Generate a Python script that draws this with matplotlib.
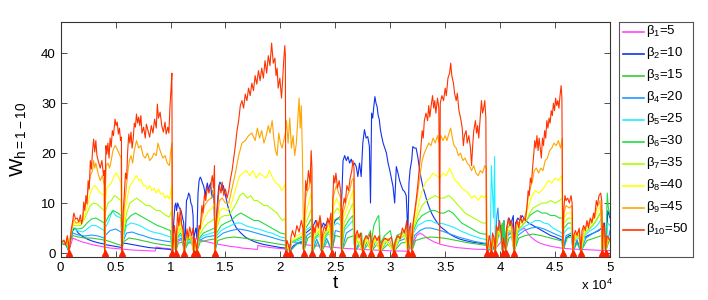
import numpy as np
import matplotlib
matplotlib.use("Agg")
import matplotlib.pyplot as plt

plt.rcParams['font.family'] = ['Liberation Sans', 'DejaVu Sans']
plt.rcParams['mathtext.fontset'] = 'custom'
plt.rcParams['mathtext.rm'] = 'Liberation Sans'
plt.rcParams['mathtext.it'] = 'Liberation Sans'

# times are in thousands of t
resets = [0.75, 4.0, 5.57, 10.17, 10.48, 11.25, 12.1, 12.4, 14.05, 20.5, 20.85, 22.12,
          22.9, 23.75, 24.68, 25.57, 26.77, 27.48, 28.27, 29.09, 30.32, 31.6, 31.96,
          38.8, 39.2, 39.55, 40.22, 40.5, 41.27, 45.7, 46.62, 47.35, 49.3, 49.6]

betas = [5, 10, 15, 20, 25, 30, 35, 40, 45, 50]

b10 = [(0, 2.0), (0.3, 2.6), (0.45, 1.6), (0.6, 3.5), (0.7, 2.2), (0.75, 0.2),
       (0.85, 1.5), (0.95, 4.5), (1.1, 6.5), (1.2, 8.0), (1.35, 6.8), (1.5, 7.0), (1.65, 6.2),
       (1.8, 7.6), (1.9, 5.8), (2.0, 6.8), (2.1, 10.2), (2.2, 8.5), (2.3, 11.5), (2.4, 9.8),
       (2.5, 14.5), (2.6, 12.8), (2.7, 18.5), (2.8, 16.8), (2.9, 20.5), (3.0, 22.8), (3.1, 20.2),
       (3.2, 22.5), (3.3, 19.5), (3.45, 18.2), (3.6, 17.0), (3.75, 18.5), (3.9, 15.5), (3.97, 16.5),
       (4.0, 0.3), (4.05, 13.5), (4.12, 21.5), (4.2, 19.8), (4.3, 22.0), (4.4, 19.0), (4.5, 23.0),
       (4.6, 21.2), (4.7, 24.5), (4.8, 23.5), (4.95, 26.8), (5.05, 25.5), (5.15, 26.2), (5.25, 23.8),
       (5.35, 25.0), (5.45, 22.5), (5.53, 23.2), (5.57, 0.5),
       (5.62, 3.0), (5.7, 8.5), (5.8, 12.0), (5.9, 16.0), (6.0, 14.8), (6.1, 20.5), (6.2, 23.8),
       (6.3, 22.0), (6.4, 24.2), (6.5, 21.0), (6.6, 22.8), (6.7, 26.0), (6.8, 25.2), (6.9, 27.8),
       (7.0, 26.0), (7.1, 27.2), (7.2, 25.5), (7.3, 27.5), (7.4, 24.0), (7.55, 25.2), (7.7, 23.0),
       (7.8, 25.8), (7.95, 24.5), (8.1, 23.2), (8.25, 25.5), (8.4, 24.0), (8.55, 26.8), (8.7, 25.0),
       (8.8, 29.8), (8.9, 27.0), (9.05, 28.2), (9.2, 25.5), (9.35, 24.2), (9.5, 26.2), (9.6, 23.8),
       (9.75, 25.2), (9.85, 24.0), (9.95, 29.5), (10.05, 33.0), (10.12, 36.0), (10.17, 0.3),
       (10.25, 2.0), (10.35, 5.5), (10.45, 3.5), (10.48, 0.3), (10.55, 4.0), (10.65, 8.2),
       (10.75, 5.5), (10.9, 9.0), (11.0, 6.0), (11.15, 4.5), (11.25, 0.3), (11.35, 2.5), (11.5, 4.8),
       (11.6, 3.0), (11.75, 5.2), (11.9, 3.5), (12.05, 5.0), (12.1, 0.3), (12.2, 3.0), (12.3, 2.0),
       (12.4, 0.3), (12.5, 3.5), (12.6, 5.5), (12.7, 4.8), (12.85, 9.5), (12.95, 8.0), (13.1, 12.0),
       (13.2, 10.5), (13.35, 13.2), (13.5, 12.0), (13.65, 13.5), (13.8, 15.5), (13.9, 13.0),
       (14.0, 17.5), (14.05, 0.3),
       (14.15, 6.0), (14.3, 10.0), (14.45, 13.5), (14.6, 12.0), (14.7, 14.2), (14.85, 11.5),
       (15.0, 12.8), (15.15, 11.0), (15.3, 12.5), (15.45, 14.8), (15.6, 16.5), (15.75, 19.0),
       (15.9, 21.5), (16.05, 24.5), (16.2, 26.5), (16.35, 29.5), (16.5, 30.5), (16.65, 29.0),
       (16.8, 31.8), (16.95, 30.5), (17.1, 33.0), (17.25, 31.5), (17.4, 34.0), (17.55, 32.5),
       (17.7, 35.5), (17.85, 33.8), (18.0, 36.5), (18.15, 34.5), (18.3, 37.0), (18.45, 35.0),
       (18.6, 38.5), (18.75, 36.0), (18.9, 39.5), (19.05, 37.5), (19.2, 42.0), (19.35, 38.0),
       (19.5, 39.0), (19.6, 35.5), (19.7, 37.0), (19.8, 33.0), (19.95, 35.0), (20.1, 31.0),
       (20.2, 34.5), (20.3, 38.5), (20.4, 41.5), (20.45, 39.5), (20.5, 0.3),
       (20.6, 2.5), (20.75, 1.5), (20.85, 0.3), (20.95, 3.0), (21.1, 4.5), (21.3, 3.2), (21.5, 5.5),
       (21.7, 4.2), (21.9, 6.5), (22.05, 5.0), (22.12, 0.3), (22.2, 8.0), (22.3, 14.5), (22.4, 12.5),
       (22.55, 16.5), (22.7, 14.0), (22.8, 20.5), (22.87, 17.0), (22.9, 0.3), (23.0, 5.5),
       (23.15, 4.0), (23.3, 6.5), (23.45, 5.0), (23.6, 7.5), (23.7, 6.0), (23.75, 0.3), (23.85, 4.0),
       (24.0, 5.5), (24.15, 4.5), (24.3, 7.0), (24.45, 6.0), (24.6, 8.0), (24.68, 0.3), (24.75, 9.5),
       (24.85, 15.5), (24.95, 14.0), (25.05, 16.0), (25.2, 13.0), (25.35, 14.5), (25.5, 12.0),
       (25.57, 0.3), (25.65, 8.5), (25.8, 11.0), (25.9, 10.0), (26.05, 13.5), (26.2, 12.5),
       (26.35, 15.0), (26.5, 16.5), (26.6, 18.5), (26.7, 17.0), (26.77, 0.3), (26.85, 3.5),
       (27.0, 4.5), (27.15, 3.0), (27.3, 4.0), (27.48, 0.3), (27.6, 2.5), (27.8, 3.5), (28.0, 2.8),
       (28.2, 4.0), (28.27, 0.3), (28.4, 2.5), (28.6, 3.5), (28.8, 2.5), (29.0, 3.5), (29.09, 0.3),
       (29.2, 2.0), (29.5, 3.0), (29.8, 2.5), (30.1, 3.2), (30.32, 0.3), (30.45, 2.5), (30.7, 3.5),
       (30.9, 2.8), (31.1, 5.0), (31.3, 4.0), (31.5, 6.5), (31.6, 0.3), (31.7, 4.5), (31.85, 6.0),
       (31.96, 0.3),
       (32.05, 5.5), (32.2, 8.0), (32.35, 10.5), (32.5, 13.5), (32.6, 16.0), (32.7, 18.5),
       (32.8, 21.5), (32.9, 24.5), (33.0, 23.0), (33.1, 26.5), (33.25, 28.0), (33.4, 26.5),
       (33.5, 29.5), (33.6, 27.2), (33.75, 30.0), (33.85, 31.5), (33.95, 29.0), (34.05, 30.5),
       (34.15, 28.0), (34.3, 31.0), (34.42, 29.0), (34.5, 2.0), (34.55, 30.0), (34.7, 31.5),
       (34.85, 30.5), (35.0, 33.0), (35.1, 31.5), (35.25, 35.0), (35.4, 36.0), (35.5, 38.0),
       (35.6, 35.5), (35.75, 34.0), (35.85, 32.0), (36.0, 30.5), (36.1, 32.0), (36.25, 28.5),
       (36.4, 27.0), (36.55, 25.0), (36.65, 21.5), (36.75, 23.5), (36.9, 24.5), (37.0, 22.0),
       (37.15, 23.5), (37.3, 21.0), (37.4, 17.5), (37.5, 21.5), (37.6, 24.5), (37.75, 26.5),
       (37.85, 24.0), (37.95, 25.5), (38.05, 23.0), (38.15, 26.0), (38.3, 30.5), (38.4, 28.0),
       (38.5, 29.0), (38.6, 30.5), (38.7, 27.0), (38.75, 2.0), (38.8, 0.3),
       (38.9, 1.5), (39.0, 3.5), (39.1, 2.5), (39.2, 0.3), (39.3, 4.0), (39.45, 3.0), (39.55, 0.3),
       (39.65, 5.5), (39.8, 4.5), (39.95, 6.5), (40.1, 4.0), (40.22, 0.3), (40.3, 3.0), (40.5, 0.3),
       (40.6, 5.0), (40.75, 7.0), (40.9, 5.5), (41.05, 6.5), (41.2, 4.5), (41.27, 0.3),
       (41.4, 5.5), (41.55, 6.5), (41.7, 5.0), (41.85, 7.5), (42.0, 6.0), (42.15, 7.0), (42.3, 6.5),
       (42.45, 9.5), (42.55, 12.5), (42.65, 11.5), (42.75, 15.0), (42.85, 14.0), (42.95, 17.0),
       (43.05, 19.5), (43.15, 22.5), (43.25, 21.0), (43.35, 23.5), (43.45, 20.5), (43.55, 23.0),
       (43.65, 21.0), (43.75, 19.0), (43.85, 23.0), (43.95, 21.5), (44.05, 24.5), (44.15, 23.0),
       (44.25, 26.5), (44.35, 25.0), (44.45, 27.0), (44.55, 26.0), (44.65, 28.5), (44.75, 27.5),
       (44.85, 30.0), (44.95, 28.5), (45.05, 31.0), (45.15, 29.5), (45.25, 30.5), (45.35, 29.0),
       (45.45, 31.5), (45.55, 33.5), (45.62, 31.0), (45.7, 0.3),
       (45.8, 9.0), (45.9, 11.5), (46.0, 10.5), (46.15, 11.0), (46.3, 10.0), (46.45, 11.5),
       (46.55, 10.0), (46.62, 0.3), (46.7, 3.5), (46.85, 4.5), (47.0, 3.5), (47.2, 5.0), (47.35, 0.3),
       (47.45, 4.5), (47.6, 5.5), (47.75, 4.5), (47.9, 6.5), (48.05, 5.0), (48.2, 7.0), (48.35, 6.0),
       (48.5, 8.0), (48.6, 7.0), (48.75, 10.5), (48.85, 9.5), (49.0, 11.5), (49.15, 12.0),
       (49.25, 10.5), (49.3, 0.3), (49.4, 6.0), (49.5, 5.0), (49.6, 0.3), (49.7, 3.5), (49.85, 3.0),
       (50.0, 2.5)]

b9 = [(0, 2.0), (0.3, 2.4), (0.5, 1.6), (0.6, 3.0), (0.75, 0.3), (0.9, 3.5), (1.1, 5.8),
      (1.2, 6.8), (1.4, 6.0), (1.6, 6.2), (1.8, 6.5), (2.0, 6.5), (2.1, 8.5), (2.3, 10.0),
      (2.5, 12.5), (2.7, 15.5), (2.9, 16.5), (3.0, 18.5), (3.1, 17.0), (3.2, 18.0), (3.4, 16.0),
      (3.6, 14.5), (3.8, 15.5), (3.97, 13.5), (4.0, 0.3), (4.05, 12.0), (4.15, 17.5), (4.3, 18.0),
      (4.45, 17.0), (4.6, 18.5), (4.75, 20.5), (4.95, 21.5), (5.1, 21.0), (5.3, 20.0), (5.5, 19.0),
      (5.57, 0.4), (5.65, 4.0), (5.8, 9.5), (5.95, 12.5), (6.1, 16.0), (6.25, 18.5), (6.4, 19.5),
      (6.55, 18.0), (6.7, 20.5), (6.9, 22.5), (7.1, 21.0), (7.3, 21.5), (7.5, 19.5), (7.7, 19.0),
      (7.9, 20.0), (8.1, 18.5), (8.3, 19.0), (8.5, 20.0), (8.7, 19.5), (8.85, 22.0), (9.05, 20.5),
      (9.3, 19.0), (9.5, 19.5), (9.7, 18.0), (9.9, 17.5), (10.0, 20.0), (10.12, 22.0), (10.17, 0.3),
      (10.3, 3.5), (10.48, 0.3), (10.6, 4.5), (10.9, 7.0), (11.1, 4.5), (11.25, 0.3), (11.5, 4.0),
      (11.9, 3.2), (12.1, 0.3), (12.2, 2.5), (12.4, 0.3), (12.6, 4.5), (12.9, 7.5), (13.1, 9.5),
      (13.4, 10.5), (13.7, 11.0), (13.95, 13.0), (14.05, 0.3), (14.2, 6.0), (14.45, 10.5),
      (14.7, 11.0), (15.0, 10.0), (15.3, 10.0), (15.6, 13.0), (15.9, 16.0), (16.2, 19.5),
      (16.5, 22.0), (16.8, 22.5), (17.1, 23.5), (17.4, 24.0), (17.7, 22.5), (17.9, 25.0),
      (18.1, 23.0), (18.3, 24.5), (18.5, 22.0), (18.7, 23.5), (18.9, 25.5), (19.05, 24.0),
      (19.25, 26.5), (19.4, 23.0), (19.55, 20.5), (19.7, 19.5), (19.85, 24.0), (20.0, 22.0),
      (20.15, 21.0), (20.3, 22.5), (20.45, 24.0), (20.55, 26.5), (20.7, 22.0), (20.85, 27.0),
      (21.0, 21.0), (21.15, 23.5), (21.3, 19.5), (21.45, 22.0), (21.6, 27.5), (21.7, 31.0),
      (21.8, 25.0), (21.9, 29.5), (22.0, 20.0), (22.12, 0.3),
      (22.2, 6.0), (22.3, 11.0), (22.45, 12.5), (22.6, 13.0), (22.8, 16.5), (22.9, 0.3),
      (23.0, 4.5), (23.3, 5.5), (23.6, 6.5), (23.75, 0.3), (23.9, 3.5), (24.2, 5.0), (24.5, 6.5),
      (24.68, 0.3), (24.8, 11.0), (24.95, 12.5), (25.1, 13.5), (25.3, 12.0), (25.5, 11.0),
      (25.57, 0.3), (25.7, 8.0), (25.9, 9.5), (26.1, 11.5), (26.3, 12.5), (26.5, 14.5),
      (26.65, 15.0), (26.77, 0.3), (26.9, 3.5), (27.2, 3.8), (27.48, 0.3), (27.7, 3.0), (28.0, 2.8),
      (28.27, 0.3), (28.5, 3.0), (28.9, 3.0), (29.09, 0.3), (29.4, 2.8), (29.9, 2.8), (30.32, 0.3),
      (30.6, 3.0), (31.0, 3.5), (31.3, 4.5), (31.5, 5.5), (31.6, 0.3), (31.75, 5.0), (31.96, 0.3),
      (32.1, 6.0), (32.3, 9.0), (32.5, 12.0), (32.7, 15.5), (32.9, 18.5), (33.1, 20.0),
      (33.3, 21.0), (33.5, 22.0), (33.7, 21.5), (33.9, 23.0), (34.1, 22.0), (34.3, 23.5),
      (34.45, 22.0), (34.6, 23.5), (34.8, 22.5), (35.0, 23.5), (35.15, 22.5), (35.35, 24.0),
      (35.5, 25.0), (35.65, 23.0), (35.8, 21.5), (36.0, 21.0), (36.2, 19.5), (36.4, 20.0),
      (36.6, 18.5), (36.8, 19.0), (37.0, 18.0), (37.2, 17.5), (37.4, 16.5), (37.6, 17.5),
      (37.8, 16.0), (38.0, 15.5), (38.2, 16.5), (38.4, 16.0), (38.6, 17.5), (38.75, 17.0), (38.8, 0.3),
      (38.9, 2.0), (39.2, 0.3), (39.4, 3.5), (39.55, 0.3), (39.8, 5.0), (40.1, 4.0), (40.22, 0.3),
      (40.5, 0.3), (40.7, 6.0), (41.0, 5.5), (41.27, 0.3), (41.5, 5.5), (41.8, 6.5), (42.1, 6.5),
      (42.35, 8.0), (42.55, 11.0), (42.75, 13.0), (42.95, 14.5), (43.1, 16.5), (43.3, 17.0),
      (43.5, 16.0), (43.7, 17.0), (43.9, 16.5), (44.1, 18.5), (44.3, 19.0), (44.5, 20.5),
      (44.7, 21.0), (44.9, 22.0), (45.1, 21.5), (45.3, 22.5), (45.5, 21.0), (45.65, 23.0),
      (45.7, 0.3), (45.8, 8.0), (46.0, 9.5), (46.3, 9.0), (46.55, 9.5), (46.62, 0.3), (46.8, 3.5),
      (47.2, 4.5), (47.35, 0.3), (47.6, 5.0), (47.9, 5.5), (48.2, 6.5), (48.5, 7.0), (48.8, 9.0),
      (49.1, 10.5), (49.3, 0.3), (49.45, 5.0), (49.6, 0.3), (49.8, 3.0), (50.0, 2.5)]

b8 = [(0, 2.0), (0.3, 2.3), (0.5, 1.7), (0.6, 2.8), (0.75, 0.3), (0.9, 3.5), (1.1, 5.5),
      (1.3, 6.0), (1.6, 5.8), (2.0, 6.2), (2.2, 7.5), (2.5, 10.0), (2.7, 12.0), (2.9, 13.0),
      (3.1, 13.5), (3.3, 13.0), (3.6, 12.0), (3.97, 11.5), (4.0, 0.3), (4.05, 10.0), (4.2, 13.0),
      (4.4, 13.5), (4.6, 14.0), (4.8, 15.0), (5.0, 16.0), (5.2, 15.5), (5.5, 14.0), (5.57, 0.4),
      (5.7, 4.0), (5.9, 9.0), (6.1, 11.5), (6.3, 13.5), (6.5, 14.0), (6.7, 14.8), (6.9, 15.5),
      (7.1, 14.5), (7.3, 14.8), (7.5, 13.5), (7.7, 13.5), (7.9, 12.8), (8.1, 13.5), (8.3, 12.5),
      (8.5, 13.0), (8.7, 12.0), (8.9, 12.8), (9.1, 11.8), (9.3, 12.0), (9.5, 11.0), (9.7, 11.5),
      (9.9, 10.8), (10.1, 13.5), (10.17, 0.3),
      (10.3, 3.0), (10.48, 0.3), (10.6, 4.0), (10.9, 6.0), (11.1, 4.0), (11.25, 0.3), (11.5, 3.5),
      (11.9, 3.0), (12.1, 0.3), (12.2, 2.5), (12.4, 0.3), (12.6, 4.0), (12.9, 6.0), (13.2, 7.5),
      (13.5, 8.5), (13.8, 9.0), (14.0, 10.0), (14.05, 0.3), (14.2, 5.5), (14.5, 8.5), (14.8, 9.0),
      (15.1, 8.5), (15.4, 9.0), (15.7, 11.0), (16.0, 13.5), (16.3, 15.5), (16.6, 16.0),
      (16.9, 16.5), (17.2, 15.5), (17.5, 16.5), (17.8, 15.0), (18.1, 16.0), (18.4, 15.5),
      (18.7, 15.0), (19.0, 16.5), (19.3, 15.0), (19.6, 14.0), (19.9, 13.5), (20.1, 12.5),
      (20.3, 13.0), (20.45, 14.0), (20.5, 0.3),
      (20.6, 1.5), (20.85, 0.3), (21.0, 2.5), (21.5, 3.5), (22.0, 4.0), (22.12, 0.3), (22.3, 7.5),
      (22.5, 9.5), (22.8, 12.0), (22.9, 0.3), (23.1, 4.0), (23.5, 5.0), (23.75, 0.3), (24.0, 4.0),
      (24.4, 5.5), (24.68, 0.3), (24.85, 9.5), (25.1, 11.0), (25.4, 9.5), (25.57, 0.3), (25.7, 7.0),
      (26.0, 8.5), (26.3, 10.5), (26.6, 12.5), (26.77, 0.3), (27.0, 3.0), (27.48, 0.3), (27.8, 2.8),
      (28.27, 0.3), (28.6, 2.8), (29.09, 0.3), (29.6, 2.6), (30.32, 0.3), (30.8, 3.0), (31.3, 4.0),
      (31.6, 0.3), (31.8, 4.5), (31.96, 0.3),
      (32.1, 5.5), (32.4, 8.0), (32.7, 11.0), (33.0, 13.0), (33.3, 14.5), (33.6, 15.0),
      (33.9, 16.0), (34.2, 15.5), (34.5, 15.0), (34.8, 16.0), (35.1, 15.5), (35.4, 17.0),
      (35.6, 16.0), (35.9, 14.5), (36.2, 14.0), (36.5, 13.0), (36.8, 12.5), (37.1, 12.0),
      (37.4, 11.0), (37.7, 11.5), (38.0, 10.5), (38.3, 11.5), (38.6, 11.0), (38.75, 12.0), (38.8, 0.3),
      (38.9, 2.0), (39.2, 0.3), (39.4, 3.0), (39.55, 0.3), (39.8, 4.5), (40.1, 3.5), (40.22, 0.3),
      (40.5, 0.3), (40.7, 5.0), (41.0, 5.0), (41.27, 0.3), (41.5, 5.0), (41.9, 6.0), (42.3, 7.0),
      (42.6, 9.5), (42.9, 11.5), (43.2, 12.5), (43.5, 12.0), (43.8, 12.5), (44.1, 13.5),
      (44.4, 14.5), (44.7, 14.0), (45.0, 15.0), (45.3, 14.5), (45.6, 15.5), (45.7, 0.3),
      (45.8, 7.0), (46.1, 8.0), (46.5, 8.0), (46.62, 0.3), (46.8, 3.0), (47.2, 4.0), (47.35, 0.3),
      (47.7, 4.5), (48.1, 5.5), (48.5, 6.5), (48.9, 8.5), (49.2, 9.5), (49.3, 0.3), (49.45, 4.5),
      (49.6, 0.3), (49.8, 2.8), (50.0, 2.5)]

b7 = [(0, 2.0), (0.3, 2.2), (0.5, 1.8), (0.6, 2.6), (0.75, 0.3), (0.9, 3.5), (1.1, 5.5),
      (1.4, 5.5), (1.8, 5.5), (2.1, 6.5), (2.4, 8.0), (2.7, 9.5), (3.0, 10.0), (3.3, 9.8),
      (3.6, 9.2), (3.97, 8.5), (4.0, 0.3), (4.05, 8.0), (4.3, 10.0), (4.6, 10.5), (4.9, 11.5),
      (5.2, 11.0), (5.5, 10.5), (5.57, 0.4), (5.7, 4.0), (6.0, 8.0), (6.3, 10.0), (6.6, 10.5),
      (6.9, 11.0), (7.2, 10.5), (7.5, 10.0), (7.8, 9.5), (8.1, 9.5), (8.4, 9.0), (8.7, 8.5),
      (9.0, 8.5), (9.3, 8.0), (9.6, 7.5), (9.9, 7.2), (10.1, 8.5), (10.17, 0.3),
      (10.3, 2.8), (10.48, 0.3), (10.6, 3.5), (10.9, 5.0), (11.1, 3.8), (11.25, 0.3), (11.5, 3.0),
      (11.9, 2.8), (12.1, 0.3), (12.2, 2.3), (12.4, 0.3), (12.6, 3.5), (13.0, 5.0), (13.4, 6.0),
      (13.8, 6.5), (14.0, 7.0), (14.05, 0.3), (14.2, 5.0), (14.5, 7.0), (14.9, 7.5), (15.3, 7.5),
      (15.6, 8.5), (16.0, 10.0), (16.3, 11.5), (16.6, 12.0), (17.0, 11.0), (17.3, 11.5),
      (17.6, 10.5), (17.9, 10.5), (18.2, 10.0), (18.5, 9.5), (18.8, 9.5), (19.1, 9.0), (19.4, 8.5),
      (19.7, 8.0), (20.0, 7.0), (20.2, 6.5), (20.45, 7.0), (20.5, 0.3),
      (20.6, 1.5), (20.85, 0.3), (21.0, 2.3), (21.6, 3.0), (22.0, 3.5), (22.12, 0.3), (22.3, 6.0),
      (22.6, 7.5), (22.85, 9.0), (22.9, 0.3), (23.1, 3.5), (23.6, 4.5), (23.75, 0.3), (24.1, 4.0),
      (24.5, 5.0), (24.68, 0.3), (24.85, 8.0), (25.2, 9.0), (25.5, 8.0), (25.57, 0.3), (25.8, 6.0),
      (26.2, 8.0), (26.6, 10.0), (26.77, 0.3), (27.0, 2.8), (27.48, 0.3), (27.8, 2.6), (28.27, 0.3),
      (28.6, 2.6), (29.09, 0.3), (29.6, 2.5), (30.32, 0.3), (30.8, 2.8), (31.3, 3.5), (31.6, 0.3),
      (31.8, 4.0), (31.96, 0.3),
      (32.1, 5.0), (32.5, 7.5), (32.9, 9.5), (33.3, 10.5), (33.7, 11.0), (34.1, 11.5), (34.5, 11.0),
      (34.9, 11.0), (35.3, 11.5), (35.6, 11.0), (36.0, 10.0), (36.4, 9.0), (36.8, 8.0), (37.2, 7.5),
      (37.6, 7.0), (38.0, 6.5), (38.4, 6.0), (38.75, 6.0), (38.8, 0.3),
      (38.9, 2.0), (39.2, 0.3), (39.4, 2.8), (39.55, 0.3), (39.8, 4.0), (40.1, 3.5), (40.22, 0.3),
      (40.5, 0.3), (40.7, 4.5), (41.0, 4.5), (41.27, 0.3), (41.6, 4.5), (42.0, 5.5), (42.4, 6.5),
      (42.7, 8.0), (43.0, 9.0), (43.4, 9.5), (43.8, 10.0), (44.2, 10.0), (44.6, 10.5), (45.0, 10.0),
      (45.4, 10.5), (45.65, 11.0), (45.7, 0.3), (45.8, 6.0), (46.2, 7.0), (46.5, 7.0), (46.62, 0.3),
      (46.8, 2.8), (47.2, 3.5), (47.35, 0.3), (47.7, 4.0), (48.2, 5.0), (48.6, 6.0), (49.0, 7.5),
      (49.25, 8.5), (49.3, 0.3), (49.45, 4.0), (49.6, 0.3), (49.8, 2.6), (50.0, 2.3)]

b6 = [(0, 2.0), (0.3, 2.1), (0.5, 1.8), (0.6, 2.4), (0.75, 0.3), (0.9, 3.5), (1.1, 5.0),
      (1.5, 4.8), (2.0, 5.0), (2.4, 6.0), (2.8, 6.8), (3.2, 7.0), (3.6, 6.5), (3.97, 6.0),
      (4.0, 0.3), (4.05, 6.0), (4.4, 7.5), (4.8, 8.5), (5.2, 8.0), (5.5, 7.5), (5.57, 0.4),
      (5.7, 3.5), (6.0, 6.5), (6.4, 7.5), (6.8, 8.0), (7.2, 7.5), (7.6, 7.0), (8.0, 6.5), (8.4, 6.0),
      (8.8, 5.5), (9.2, 5.2), (9.6, 4.8), (10.0, 4.5), (10.17, 0.3),
      (10.3, 2.5), (10.48, 0.3), (10.6, 3.0), (10.9, 4.0), (11.1, 3.2), (11.25, 0.3), (11.5, 2.8),
      (11.9, 2.6), (12.1, 0.3), (12.2, 2.2), (12.4, 0.3), (12.6, 3.0), (13.0, 4.0), (13.5, 4.5),
      (14.0, 5.0), (14.05, 0.3), (14.2, 4.0), (14.6, 5.5), (15.0, 6.0), (15.5, 6.5), (16.0, 7.5),
      (16.4, 8.0), (16.8, 7.5), (17.2, 7.0), (17.6, 6.5), (18.0, 6.5), (18.4, 6.0), (18.8, 5.5),
      (19.2, 5.0), (19.6, 4.5), (20.0, 4.0), (20.45, 3.8), (20.5, 0.3),
      (20.6, 1.5), (20.85, 0.3), (21.0, 2.2), (21.6, 2.8), (22.0, 3.2), (22.12, 0.3), (22.3, 5.0),
      (22.6, 6.0), (22.85, 7.0), (22.9, 0.3), (23.1, 3.0), (23.6, 4.0), (23.75, 0.3), (24.1, 3.5),
      (24.5, 4.5), (24.68, 0.3), (24.85, 6.5), (25.2, 7.0), (25.5, 6.5), (25.57, 0.3), (25.8, 5.0),
      (26.2, 6.5), (26.6, 7.5), (26.77, 0.3), (26.9, 3.0), (27.4, 4.0), (27.48, 0.3), (27.6, 2.5),
      (28.0, 3.5), (28.2, 4.5), (28.27, 2.0), (28.5, 5.5), (28.8, 7.0), (28.95, 7.5), (29.09, 2.0),
      (29.5, 3.5), (30.0, 4.5), (30.32, 1.0), (30.6, 3.5), (31.0, 4.0), (31.3, 4.5), (31.6, 0.3),
      (31.8, 4.0), (31.96, 0.3),
      (32.1, 4.5), (32.5, 6.5), (32.9, 7.5), (33.3, 8.0), (33.7, 8.5), (34.1, 8.5), (34.5, 8.0),
      (34.9, 8.0), (35.3, 8.5), (35.7, 8.0), (36.1, 7.0), (36.5, 6.0), (36.9, 5.5), (37.3, 5.0),
      (37.7, 4.5), (38.1, 4.0), (38.5, 3.8), (38.75, 3.8), (38.8, 0.3),
      (38.9, 2.0), (39.2, 0.3), (39.4, 2.5), (39.55, 0.3), (39.8, 4.5), (40.1, 5.5), (40.22, 0.3),
      (40.35, 6.5), (40.5, 0.3), (40.7, 5.0), (41.0, 6.0), (41.27, 0.3), (41.6, 4.5), (42.0, 5.5),
      (42.4, 6.5), (42.7, 7.5), (43.0, 8.0), (43.4, 8.5), (43.8, 8.0), (44.2, 8.0), (44.6, 7.5),
      (45.0, 7.5), (45.4, 7.0), (45.65, 7.0), (45.7, 0.3), (45.8, 5.0), (46.2, 6.0), (46.5, 6.0),
      (46.62, 0.3), (46.8, 3.0), (47.2, 3.5), (47.35, 0.3), (47.7, 4.0), (48.2, 5.0), (48.6, 6.0),
      (49.0, 7.5), (49.25, 8.5), (49.3, 0.3), (49.45, 4.0), (49.6, 0.3), (49.75, 12.0),
      (49.85, 9.0), (50.0, 7.5)]

b5 = [(0, 2.0), (0.5, 1.8), (0.6, 2.2), (0.75, 0.3), (0.9, 3.5), (1.1, 5.0), (1.5, 4.5),
      (2.0, 4.2), (2.4, 4.8), (2.8, 5.5), (3.2, 5.5), (3.6, 5.0), (3.97, 4.5), (4.0, 0.3),
      (4.05, 5.0), (4.4, 6.5), (4.7, 8.5), (5.0, 7.5), (5.5, 7.0), (5.57, 0.4), (5.7, 3.0),
      (6.0, 5.5), (6.4, 6.0), (6.8, 5.8), (7.2, 5.5), (7.6, 5.0), (8.0, 4.5), (8.4, 4.2),
      (8.8, 4.0), (9.2, 3.8), (9.6, 3.5), (10.0, 3.2), (10.17, 0.3),
      (10.3, 2.2), (10.48, 0.3), (10.6, 2.8), (10.9, 3.5), (11.1, 3.0), (11.25, 0.3), (11.5, 2.5),
      (11.9, 2.4), (12.1, 0.3), (12.2, 2.0), (12.4, 0.3), (12.6, 2.8), (13.0, 3.5), (13.5, 3.8),
      (14.0, 4.2), (14.05, 0.3), (14.2, 3.5), (14.6, 4.5), (15.0, 5.0), (15.5, 5.5), (16.0, 6.0),
      (16.4, 6.0), (16.8, 5.5), (17.2, 5.2), (17.6, 5.0), (18.0, 4.8), (18.4, 4.5), (18.8, 4.2),
      (19.2, 4.0), (19.6, 3.6), (20.0, 3.2), (20.45, 3.0), (20.5, 0.3),
      (20.6, 1.3), (20.85, 0.3), (21.0, 2.0), (21.6, 2.5), (22.0, 2.8), (22.12, 0.3), (22.3, 4.5),
      (22.6, 5.0), (22.85, 5.5), (22.9, 0.3), (23.1, 2.8), (23.6, 3.5), (23.75, 0.3), (24.1, 3.2),
      (24.5, 4.0), (24.68, 0.3), (24.85, 5.5), (25.2, 6.0), (25.5, 5.5), (25.57, 0.3), (25.8, 4.5),
      (26.2, 5.5), (26.6, 6.5), (26.77, 0.3), (27.0, 2.5), (27.48, 0.3), (27.8, 2.6), (28.27, 0.3),
      (28.6, 2.8), (29.09, 0.3), (29.6, 2.8), (30.32, 0.3), (30.6, 2.6), (31.0, 3.0), (31.4, 3.8),
      (31.6, 0.3), (31.8, 3.5), (31.96, 0.3),
      (32.1, 4.0), (32.5, 5.5), (32.9, 6.0), (33.3, 6.5), (33.7, 6.5), (34.1, 6.0), (34.5, 6.0),
      (34.9, 5.8), (35.3, 5.5), (35.7, 5.2), (36.1, 4.8), (36.5, 4.3), (36.9, 4.0), (37.3, 3.6),
      (37.7, 3.3), (38.1, 3.0), (38.5, 2.8), (38.75, 2.6), (38.8, 0.3),
      (39.1, 1.5), (39.2, 17.5), (39.3, 12.0), (39.4, 7.0), (39.5, 19.3), (39.55, 2.0),
      (39.7, 4.0), (40.0, 3.5), (40.22, 0.3), (40.5, 0.3), (40.7, 4.0), (41.0, 4.5), (41.27, 0.3),
      (41.6, 4.0), (42.0, 5.0), (42.4, 5.5), (42.8, 6.0), (43.2, 6.5), (43.6, 6.5), (44.0, 6.0),
      (44.4, 5.8), (44.8, 5.0), (45.2, 4.5), (45.65, 4.0), (45.7, 0.3), (45.8, 4.0), (46.2, 5.0),
      (46.5, 5.0), (46.62, 0.3), (46.8, 2.5), (47.2, 3.0), (47.35, 0.3), (47.7, 3.5), (48.2, 4.5),
      (48.6, 5.0), (49.0, 6.0), (49.25, 7.0), (49.3, 0.3), (49.45, 3.5), (49.6, 0.3), (49.8, 6.0),
      (50.0, 5.5)]

b4 = [(0, 2.0), (0.5, 1.8), (0.75, 0.3), (0.9, 3.0), (1.1, 4.0), (1.6, 3.6), (2.2, 3.4),
      (2.8, 3.6), (3.4, 3.4), (3.97, 3.0), (4.0, 0.5), (4.05, 3.5), (4.5, 4.5), (5.0, 4.8),
      (5.5, 4.2), (5.57, 0.5), (5.7, 2.5), (6.0, 4.0), (6.5, 4.2), (7.0, 3.8), (7.5, 3.5),
      (8.0, 3.1), (8.5, 2.8), (9.0, 2.6), (9.5, 2.4), (10.1, 2.2), (10.17, 0.3), (10.3, 2.0),
      (10.48, 0.3), (10.6, 2.5), (11.0, 3.0), (11.25, 0.3), (11.5, 2.2), (12.0, 2.2), (12.1, 0.3),
      (12.4, 0.3), (12.6, 2.5), (13.2, 3.2), (14.0, 3.5), (14.05, 0.3), (14.2, 3.0), (14.8, 4.0),
      (15.5, 4.5), (16.2, 4.8), (17.0, 4.5), (17.8, 4.0), (18.6, 3.5), (19.4, 3.0), (20.0, 2.6),
      (20.45, 2.4), (20.5, 0.3), (20.7, 1.2), (20.85, 0.3), (21.5, 2.0), (22.0, 2.4), (22.12, 0.3),
      (22.4, 3.5), (22.85, 4.2), (22.9, 0.3), (23.3, 2.8), (23.75, 0.3), (24.2, 3.0), (24.68, 0.3),
      (25.0, 4.5), (25.5, 4.2), (25.57, 0.3), (26.0, 4.0), (26.7, 5.0), (26.77, 0.3), (27.2, 2.2),
      (27.48, 0.3), (27.9, 2.3), (28.27, 0.3), (28.7, 2.5), (29.09, 0.3), (29.7, 2.5), (30.32, 0.3),
      (30.8, 2.4), (31.5, 3.0), (31.6, 0.3), (31.9, 3.0), (31.96, 0.3), (32.2, 3.5), (32.7, 4.5),
      (33.2, 5.0), (33.7, 5.0), (34.2, 4.7), (34.7, 4.4), (35.2, 4.0), (35.7, 3.6), (36.2, 3.2),
      (36.7, 2.9), (37.2, 2.6), (37.7, 2.3), (38.2, 2.1), (38.75, 1.9), (38.8, 0.3), (39.2, 1.5),
      (39.55, 0.3), (39.7, 7.5), (39.8, 9.0), (39.9, 5.0), (40.1, 5.5), (40.22, 0.3), (40.35, 6.0),
      (40.5, 0.3), (40.7, 3.5), (41.0, 4.0), (41.27, 0.3), (41.6, 3.5), (42.2, 4.5), (42.8, 5.0),
      (43.4, 5.2), (44.0, 4.8), (44.6, 4.2), (45.2, 3.6), (45.65, 3.2), (45.7, 0.3), (46.0, 3.5),
      (46.5, 4.0), (46.62, 0.3), (47.0, 2.5), (47.35, 0.3), (47.8, 3.0), (48.5, 4.0), (49.25, 5.0),
      (49.3, 0.3), (49.5, 3.0), (49.6, 0.3), (50.0, 4.5)]

b3 = [(0, 2.0), (0.5, 1.7), (0.75, 0.3), (0.9, 2.5), (1.1, 3.5), (1.6, 3.2), (2.2, 3.0),
      (2.8, 3.0), (3.4, 2.8), (3.97, 2.6), (4.0, 0.3), (4.05, 2.6), (4.6, 2.2), (5.1, 1.8),
      (5.55, 1.5), (5.57, 0.4), (5.7, 2.2), (6.2, 3.0), (6.8, 2.8), (7.4, 2.5), (8.0, 2.2),
      (8.6, 1.9), (9.2, 1.7), (9.8, 1.5), (10.15, 1.4), (10.17, 0.3), (10.4, 1.8), (10.48, 0.3),
      (10.7, 2.0), (11.2, 2.2), (11.25, 0.3), (11.6, 2.0), (12.05, 2.0), (12.1, 0.3), (12.4, 0.3),
      (12.7, 2.2), (13.4, 2.6), (14.0, 2.8), (14.05, 0.3), (14.3, 2.5), (15.0, 3.0), (15.8, 3.2),
      (16.6, 3.0), (17.4, 2.7), (18.2, 2.4), (19.0, 2.1), (19.8, 1.8), (20.45, 1.6), (20.5, 0.3),
      (20.8, 1.0), (20.85, 0.3), (21.5, 1.8), (22.05, 2.0), (22.12, 0.3), (22.5, 3.0), (22.85, 3.5),
      (22.9, 0.3), (23.4, 2.2), (23.75, 0.3), (24.3, 2.5), (24.68, 0.3), (25.0, 3.5), (25.5, 3.2),
      (25.57, 0.3), (26.1, 3.0), (26.7, 3.5), (26.77, 0.3), (27.3, 1.8), (27.48, 0.3), (28.0, 1.8),
      (28.27, 0.3), (28.8, 1.8), (29.09, 0.3), (29.8, 1.8), (30.32, 0.3), (31.0, 2.0), (31.55, 2.2),
      (31.6, 0.3), (31.9, 2.2), (31.96, 0.3), (32.3, 2.5), (33.0, 3.0), (33.7, 3.2), (34.4, 3.1),
      (35.1, 2.9), (35.8, 2.6), (36.5, 2.3), (37.2, 2.0), (37.9, 1.8), (38.75, 1.5), (38.8, 0.3),
      (39.3, 1.5), (39.55, 0.3), (39.8, 3.0), (40.2, 6.0), (40.22, 0.3), (40.4, 5.0), (40.5, 0.3),
      (40.8, 3.0), (41.2, 3.5), (41.27, 0.3), (41.7, 3.0), (42.3, 3.5), (43.0, 3.8), (43.7, 3.5),
      (44.4, 3.1), (45.1, 2.7), (45.65, 2.4), (45.7, 0.3), (46.1, 3.0), (46.55, 3.3), (46.62, 0.3),
      (47.0, 2.0), (47.35, 0.3), (47.9, 2.5), (48.6, 3.0), (49.25, 3.5), (49.3, 0.3), (49.5, 2.5),
      (49.6, 0.3), (50.0, 3.0)]

b2 = [(0, 2.0), (0.5, 1.6), (0.75, 0.3), (0.9, 3.0), (1.1, 4.5), (1.3, 5.0), (1.6, 4.0),
      (2.0, 3.3), (2.5, 2.7), (3.0, 2.3), (3.5, 2.0), (3.97, 1.8), (4.0, 1.7), (4.5, 1.5),
      (5.0, 1.3), (5.55, 1.1), (5.57, 2.0), (6.0, 1.9), (6.5, 1.7), (7.0, 1.5), (7.5, 1.3),
      (8.0, 1.1), (8.5, 1.0), (9.0, 0.9), (9.5, 0.8), (10.0, 0.7), (10.17, 0.3),
      (10.2, 2.0), (10.3, 6.5), (10.4, 9.5), (10.48, 10.0), (10.55, 8.5), (10.65, 10.0),
      (10.8, 9.0), (10.95, 8.5), (11.1, 7.0), (11.2, 6.0), (11.25, 2.5), (11.35, 4.0), (11.45, 10.5),
      (11.55, 11.0), (11.65, 12.0), (11.75, 11.5), (11.85, 10.0), (11.95, 9.5), (12.05, 7.5),
      (12.1, 2.5), (12.2, 4.0), (12.3, 5.0), (12.4, 3.0), (12.5, 12.0), (12.6, 14.5), (12.7, 15.2),
      (12.8, 14.8), (12.9, 14.0), (13.0, 13.5), (13.1, 12.5), (13.15, 11.0), (13.25, 13.0),
      (13.35, 14.0), (13.45, 12.5), (13.55, 13.5), (13.65, 14.0), (13.75, 11.0), (13.85, 12.5),
      (13.95, 10.5), (14.05, 2.0), (14.15, 6.0), (14.3, 11.0), (14.4, 13.5), (14.5, 14.2),
      (14.6, 13.8), (14.7, 12.5), (14.8, 13.5), (14.9, 12.5), (15.0, 11.5), (15.2, 9.5),
      (15.4, 8.0), (15.6, 6.8), (15.8, 5.8), (16.0, 5.0), (16.4, 4.0), (16.8, 3.2), (17.2, 2.7),
      (17.6, 2.3), (18.0, 2.0), (18.5, 1.7), (19.0, 1.5), (19.5, 1.3), (20.0, 1.1), (20.45, 1.0),
      (20.5, 0.3),
      (20.6, 1.2), (20.85, 0.5), (21.2, 1.5), (21.6, 2.0), (22.0, 2.2), (22.12, 0.5), (22.3, 4.0),
      (22.6, 4.5), (22.85, 5.0), (22.9, 0.5), (23.0, 5.5), (23.2, 6.5), (23.4, 5.5), (23.6, 6.5),
      (23.75, 5.0), (23.9, 6.0), (24.1, 5.5), (24.3, 6.5), (24.5, 6.0), (24.68, 0.5), (24.8, 5.5),
      (25.0, 6.5), (25.3, 7.0), (25.5, 7.5), (25.6, 12.0), (25.7, 18.5), (25.85, 19.5),
      (26.0, 18.5), (26.15, 19.3), (26.3, 18.0), (26.45, 18.8), (26.6, 17.5), (26.75, 18.0),
      (26.9, 17.3), (27.05, 15.3), (27.2, 18.0), (27.35, 15.3), (27.5, 22.0), (27.65, 24.7),
      (27.8, 23.0), (27.95, 23.3), (28.1, 21.3), (28.2, 10.0), (28.3, 28.0), (28.4, 27.0),
      (28.5, 29.3), (28.6, 31.3), (28.7, 30.0), (28.8, 29.3), (28.9, 27.5), (29.0, 26.7),
      (29.1, 24.7), (29.2, 23.5), (29.35, 22.0), (29.5, 21.0), (29.65, 20.0), (29.8, 18.0),
      (29.95, 16.6), (30.1, 15.0), (30.25, 13.3), (30.4, 10.0), (30.55, 17.3), (30.7, 16.0),
      (30.85, 14.5), (31.0, 13.5), (31.15, 12.6), (31.3, 12.3), (31.45, 11.5), (31.6, 4.0),
      (31.7, 14.0), (31.8, 16.6), (31.95, 18.6), (32.05, 21.3), (32.2, 21.0), (32.35, 21.0),
      (32.5, 19.3), (32.65, 17.0), (32.8, 15.0), (33.0, 13.0), (33.2, 11.5), (33.4, 10.0),
      (33.6, 8.8), (33.8, 7.8), (34.0, 7.0), (34.3, 6.0), (34.6, 5.2), (35.0, 4.5), (35.4, 3.8),
      (35.8, 3.3), (36.3, 2.8), (36.8, 2.5), (37.4, 2.2), (38.0, 2.0), (38.75, 1.8), (38.8, 0.3),
      (38.9, 1.0), (39.2, 0.5), (39.5, 1.5), (39.55, 0.3), (39.7, 3.0), (40.0, 5.5), (40.22, 0.3),
      (40.35, 6.5), (40.5, 0.3), (40.6, 5.0), (40.8, 7.0), (41.0, 6.0), (41.2, 7.5), (41.27, 0.3),
      (41.4, 6.0), (41.6, 7.0), (41.8, 6.5), (42.0, 7.5), (42.3, 6.5), (42.6, 6.0), (43.0, 5.5),
      (43.4, 5.0), (43.8, 4.5), (44.2, 4.0), (44.6, 3.5), (45.0, 3.2), (45.4, 2.8), (45.65, 2.6),
      (45.7, 0.3), (46.0, 3.0), (46.3, 3.5), (46.55, 3.5), (46.62, 0.3), (47.0, 2.5), (47.35, 0.3),
      (47.6, 3.0), (48.0, 3.5), (48.5, 4.0), (49.0, 4.5), (49.25, 5.0), (49.3, 0.3), (49.5, 6.0),
      (49.6, 0.3), (49.8, 8.5), (50.0, 7.0)]

b1 = [(0, 2.0), (0.5, 1.7), (0.75, 0.5), (0.9, 1.5), (1.1, 3.0), (1.5, 2.6), (2.0, 2.2),
      (2.5, 1.9), (3.0, 1.6), (3.5, 1.4), (4.0, 1.2), (4.5, 1.0), (5.0, 0.9), (5.5, 0.8),
      (6.0, 0.7), (6.5, 0.6), (7.0, 0.55), (7.5, 0.5), (8.0, 0.45), (8.6, 0.4), (8.7, 1.2),
      (9.2, 1.0), (9.7, 0.9), (10.1, 0.8), (10.17, 0.3), (10.3, 1.5), (10.5, 2.0), (10.8, 2.5),
      (11.2, 2.8), (11.6, 3.0), (12.0, 3.0), (12.4, 2.8), (12.8, 2.5), (13.2, 2.3), (13.6, 2.1),
      (14.0, 1.9), (14.5, 1.7), (15.0, 1.5), (15.5, 1.3), (16.0, 1.2), (16.5, 1.0), (17.0, 0.9),
      (17.5, 0.8), (17.9, 0.7), (17.95, 1.5), (18.5, 1.3), (19.0, 1.1), (19.5, 1.0), (20.0, 0.9),
      (20.45, 0.8), (20.5, 0.4), (21.0, 2.2), (21.5, 2.0), (22.0, 1.8), (22.5, 1.6), (23.0, 1.5),
      (23.5, 1.4), (24.0, 1.3), (24.5, 1.2), (25.0, 1.1), (25.5, 1.0), (26.0, 0.9), (26.5, 0.85),
      (27.0, 0.8), (27.5, 0.7), (28.0, 0.65), (28.5, 0.6), (29.0, 0.55), (29.5, 0.5), (30.0, 0.45),
      (30.5, 0.4), (31.0, 0.4), (31.5, 0.35), (31.6, 0.3), (32.0, 1.5), (32.4, 3.5), (32.7, 4.0),
      (33.0, 3.6), (33.5, 2.8), (34.0, 2.2), (34.5, 1.8), (35.0, 1.5), (35.5, 1.3), (36.0, 1.1),
      (36.5, 1.0), (37.0, 0.9), (37.5, 0.8), (38.0, 0.75), (38.75, 0.7), (38.8, 0.3), (39.2, 0.8),
      (39.6, 1.0), (40.0, 2.0), (40.3, 3.0), (40.8, 4.0), (41.3, 4.0), (41.8, 4.5), (42.2, 5.0),
      (42.5, 4.0), (42.8, 3.2), (43.2, 2.5), (43.6, 2.0), (44.0, 1.7), (44.5, 1.4), (45.0, 1.2),
      (45.5, 1.0), (46.0, 0.9), (46.5, 0.8), (47.0, 0.75), (47.5, 0.7), (48.0, 0.65), (48.5, 0.6),
      (49.0, 0.55), (49.5, 0.5), (50.0, 0.5)]

series = [b1, b2, b3, b4, b5, b6, b7, b8, b9, b10]
colors = ['#ff44ff', '#1133ee', '#33cc33', '#1e9bff', '#22eeff',
          '#22dd44', '#aaff00', '#ffff00', '#ffa500', '#ff3300']

fig = plt.figure(figsize=(7.08, 3.0), dpi=100)
ax = fig.add_axes([0.0857, 0.1433, 0.7759, 0.7844])

for s, c in zip(series, colors):
    arr = np.array(s)
    ax.plot(arr[:, 0] * 1000, arr[:, 1], color=c, lw=0.8)

ax.plot(np.array(resets) * 1000, np.zeros(len(resets)), '^', color='#ff2200',
        ms=5, mec='#ff2200', clip_on=False, zorder=5)

ax.set_xlim(0, 50000)
ax.set_ylim(-0.8, 46.3)
ax.set_xticks(np.arange(0, 50001, 5000))
ax.set_xticklabels(['0', '0.5', '1', '1.5', '2', '2.5', '3', '3.5', '4', '4.5', '5'])
ax.set_yticks([0, 10, 20, 30, 40])
ax.tick_params(direction='in', top=True, right=True, length=4, width=0.6,
               labelsize=9.5, color='#333333')
for sp in ax.spines.values():
    sp.set_linewidth(0.8)
    sp.set_color('#333333')

ax.set_xlabel('t', fontsize=14, labelpad=1)
ax.set_ylabel(r'W$_{\mathregular{h=1-10}}$', fontsize=14)
ax.yaxis.set_label_coords(-0.06, 0.5)
fig.text(0.82, 0.035, r'x 10$^{\mathregular{4}}$', fontsize=9.5)

# legend box drawn as its own axes
lax = fig.add_axes([619 / 708, 0.1433, 73.7 / 708, 0.7844])
lax.set_xlim(0, 1)
lax.set_ylim(0, 1)
lax.set_xticks([])
lax.set_yticks([])
for sp in lax.spines.values():
    sp.set_linewidth(0.8)
    sp.set_color('#555555')
for i, (b, c) in enumerate(zip(betas, colors)):
    y = 1 - (10.0 + 22.03 * i) / 235.3
    lax.plot([0.06, 0.34], [y, y], color=c, lw=1.2)
    lax.text(0.37, y + 0.005, r'β$_{\mathregular{%d}}$=%d' % (i + 1, b), fontsize=9.5,
             va='center', ha='left')

fig.savefig('out.png', dpi=100)
